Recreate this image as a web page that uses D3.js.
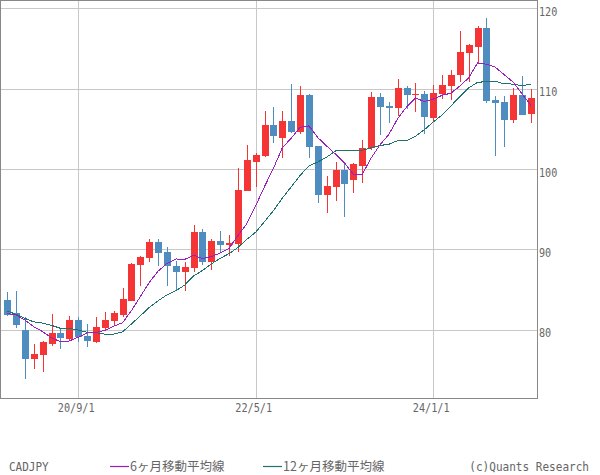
<!DOCTYPE html>
<html><head><meta charset="utf-8">
<script src="https://cdn.jsdelivr.net/npm/d3@7"></script>
<style>
html,body{margin:0;padding:0;background:#fff;}
svg{display:block;}
</style></head>
<body>
<svg id="chart" width="600" height="475"></svg>
<script>
// ---- data ----
const months = ["20/1","20/2","20/3","20/4","20/5","20/6","20/7","20/8","20/9","20/10","20/11","20/12",
"21/1","21/2","21/3","21/4","21/5","21/6","21/7","21/8","21/9","21/10","21/11","21/12",
"22/1","22/2","22/3","22/4","22/5","22/6","22/7","22/8","22/9","22/10","22/11","22/12",
"23/1","23/2","23/3","23/4","23/5","23/6","23/7","23/8","23/9","23/10","23/11","23/12",
"24/1","24/2","24/3","24/4","24/5","24/6","24/7","24/8","24/9","24/10","24/11","24/12"];
const open  = [83.67,82.09,79.94,76.36,76.86,78.23,79.56,78.78,81.18,79.23,78.48,80.22,
81.10,81.81,83.61,88.07,88.94,90.86,89.65,87.91,87.20,87.70,92.14,88.44,
91.02,90.52,90.65,97.29,100.90,101.64,105.47,103.89,105.97,104.56,109.20,102.85,
96.75,97.78,99.86,98.62,100.40,102.57,109.00,107.87,107.62,110.07,109.17,109.33,
106.34,109.37,110.36,111.73,114.47,115.22,117.51,108.58,108.33,106.09,109.20,106.84];
const high  = [84.63,84.79,81.52,78.19,78.57,81.97,80.15,81.72,81.52,80.69,81.56,82.18,
82.30,85.17,88.24,89.15,91.27,91.27,90.31,88.53,88.44,93.00,92.55,91.27,
92.30,91.77,100.11,102.98,101.94,107.21,107.71,107.21,110.57,110.32,109.33,102.85,
99.12,100.90,100.61,100.70,103.60,109.58,109.49,108.37,111.20,110.32,110.74,109.74,
110.40,111.67,112.35,117.17,115.50,117.80,118.79,109.12,109.08,110.04,111.57,109.95];
const low   = [81.68,80.15,73.87,75.04,74.75,78.00,77.57,78.69,78.41,77.86,78.28,79.94,
80.56,81.60,83.55,85.45,88.44,87.91,85.45,84.80,84.83,87.20,88.03,87.41,
89.49,89.19,89.69,97.20,97.78,101.50,103.26,101.39,104.43,104.40,101.32,95.79,
94.55,96.04,94.05,97.04,98.28,102.40,104.22,105.75,106.62,107.42,107.12,104.31,
106.00,108.67,108.58,110.86,110.86,113.15,108.24,101.60,102.76,105.68,106.70,105.68];
const close = [81.84,80.60,76.36,76.95,78.44,79.56,78.98,81.18,79.10,78.61,80.31,81.18,
82.05,83.84,88.16,89.03,90.86,89.59,87.91,87.20,87.78,92.14,88.44,91.02,
90.52,90.73,97.37,101.07,101.73,105.47,104.13,105.97,104.56,109.20,102.76,96.75,
97.87,99.86,98.16,100.57,102.57,109.00,107.75,107.62,110.07,109.24,109.29,106.43,
109.45,110.45,111.69,114.56,115.43,117.55,108.49,108.24,106.09,109.20,106.71,108.79];
const ma6  = [82.00,81.80,81.18,80.35,79.73,78.96,78.48,78.58,79.04,79.57,79.64,79.89,
80.41,80.85,82.36,84.10,85.85,87.26,88.23,88.79,88.73,89.25,88.84,89.08,
89.52,90.11,91.70,93.19,95.41,97.82,100.08,102.62,103.82,105.18,105.35,103.90,
102.85,101.83,100.77,99.33,99.30,101.34,102.99,104.28,106.26,107.71,108.83,108.40,
108.68,109.16,109.43,110.31,111.34,113.19,113.03,112.66,111.73,110.83,109.38,107.92];
const ma12 = [82.30,81.89,81.39,80.95,80.80,80.52,80.15,80.15,79.94,79.65,79.60,79.43,
79.44,79.71,80.70,81.70,82.74,83.57,84.32,84.82,85.54,86.67,87.35,88.17,
88.87,89.45,90.22,91.22,92.13,93.45,94.80,96.36,97.76,99.18,100.38,100.86,
101.47,102.23,102.29,102.25,102.32,102.62,102.92,103.06,103.52,103.52,104.06,104.87,
105.83,106.72,107.84,109.01,110.08,110.79,110.86,110.91,110.58,110.57,110.36,110.55];
const xTickMonths = ["20/9","22/5","24/1"];
const xTickLabels = ["20/9/1","22/5/1","24/1/1"];
const yTicks = [80,90,100,110,120];
const symbol = "CADJPY";
const legendNames = ["6ヶ月移動平均線","12ヶ月移動平均線"];
const credit = "(c)Quants Research";

// ---- drawing ----
const svg = d3.select("#chart");
const x = d3.scaleLinear().domain([-0.7, months.length - 0.3]).range([1, 537]);
const y = d3.scaleLinear().domain([71.35, 120.97]).range([399, 0.5]);
const UP = "#f53535", DOWN = "#4f8cbf", C6 = "#9a1fbf", C12 = "#1f7272";
const GRID = "#c8c8c8", TXT = "#666";
const mono = "'DejaVu Sans Mono','Liberation Mono',monospace";
const cjk = "'Noto Sans CJK JP','DejaVu Sans',sans-serif";

const px = i => Math.round(x(i));
const py = v => Math.round(y(v));

// gridlines
const g = svg.append("g");
g.selectAll(".hg").data(yTicks).join("line")
  .attr("x1", 1).attr("x2", 537)
  .attr("y1", d => py(d) + 0.5).attr("y2", d => py(d) + 0.5)
  .attr("stroke", GRID).attr("stroke-width", 1);
const xTickIdx = xTickMonths.map(m => months.indexOf(m));
g.selectAll(".vg").data(xTickIdx).join("line")
  .attr("x1", d => px(d) + 0.5).attr("x2", d => px(d) + 0.5)
  .attr("y1", 0).attr("y2", 399)
  .attr("stroke", GRID).attr("stroke-width", 1);

// candles
const data = months.map((m, i) => ({i, o: open[i], h: high[i], l: low[i], c: close[i]}));
const cg = svg.append("g");
cg.selectAll(".wick").data(data).join("line")
  .attr("x1", d => px(d.i) + 0.5).attr("x2", d => px(d.i) + 0.5)
  .attr("y1", d => py(d.h)).attr("y2", d => py(d.l))
  .attr("stroke", d => d.c >= d.o ? UP : DOWN).attr("stroke-width", 1)
  .attr("shape-rendering", "crispEdges");
cg.selectAll(".body").data(data).join("rect")
  .attr("x", d => px(d.i) - 3).attr("width", 7)
  .attr("y", d => py(Math.max(d.o, d.c)))
  .attr("height", d => Math.max(1, py(Math.min(d.o, d.c)) - py(Math.max(d.o, d.c))))
  .attr("fill", d => d.c >= d.o ? UP : DOWN)
  .attr("shape-rendering", "crispEdges");

// moving averages
const line = d3.line().x((d, i) => x(i)).y(d => y(d));
svg.append("path").datum(ma12).attr("d", line).attr("fill", "none")
  .attr("stroke", C12).attr("stroke-width", 1).attr("shape-rendering", "crispEdges");
svg.append("path").datum(ma6).attr("d", line).attr("fill", "none")
  .attr("stroke", C6).attr("stroke-width", 1).attr("shape-rendering", "crispEdges");

// frame
svg.append("rect").attr("x", 0.5).attr("y", 0.5).attr("width", 537).attr("height", 398)
  .attr("fill", "none").attr("stroke", "#888").attr("stroke-width", 1);

// axes
const yAxis = d3.axisRight(y).tickValues(yTicks).tickSize(0).tickPadding(2).tickFormat(d3.format("d"));
const ya = svg.append("g").attr("transform", "translate(537,0)").call(yAxis);
ya.select(".domain").remove();
ya.selectAll("text").attr("font-family", mono).attr("font-size", 11.5).attr("fill", TXT)
  .attr("dy", "0.72em").attr("y", -1)
  .attr("textLength", function(){ return this.textContent.length * 6.1; })
  .attr("lengthAdjust", "spacingAndGlyphs");

const xAxis = d3.axisBottom(x).tickValues(xTickIdx).tickSize(0).tickPadding(5)
  .tickFormat((d, k) => xTickLabels[k]);
const xa = svg.append("g").attr("transform", "translate(-2.5,399)").call(xAxis);
xa.select(".domain").remove();
xa.selectAll("text").attr("font-family", mono).attr("font-size", 11.5).attr("fill", TXT)
  .attr("dy", "0.72em")
  .attr("textLength", function(){ return this.textContent.length * 6.15; })
  .attr("lengthAdjust", "spacingAndGlyphs");

// bottom legend row
const by = 471;
svg.append("text").attr("x", 9).attr("y", by).text(symbol)
  .attr("font-family", mono).attr("font-size", 11.5).attr("fill", TXT)
  .attr("textLength", symbol.length * 6.6).attr("lengthAdjust", "spacingAndGlyphs");
const legend = [{name: legendNames[0], color: C6, x: 110}, {name: legendNames[1], color: C12, x: 263}];
const lg = svg.selectAll(".lg").data(legend).join("g");
lg.append("line").attr("x1", d => d.x).attr("x2", d => d.x + 19)
  .attr("y1", 466.5).attr("y2", 466.5).attr("stroke", d => d.color).attr("stroke-width", 1.2);
lg.append("text").attr("x", d => d.x + 20).attr("y", by).text(d => d.name)
  .attr("font-family", cjk).attr("font-size", 12.5).attr("fill", TXT);
svg.append("text").attr("x", 589).attr("y", by).attr("text-anchor", "end").text(credit)
  .attr("font-family", mono).attr("font-size", 11.5).attr("fill", TXT)
  .attr("textLength", credit.length * 6.65).attr("lengthAdjust", "spacingAndGlyphs");
</script>
</body></html>
